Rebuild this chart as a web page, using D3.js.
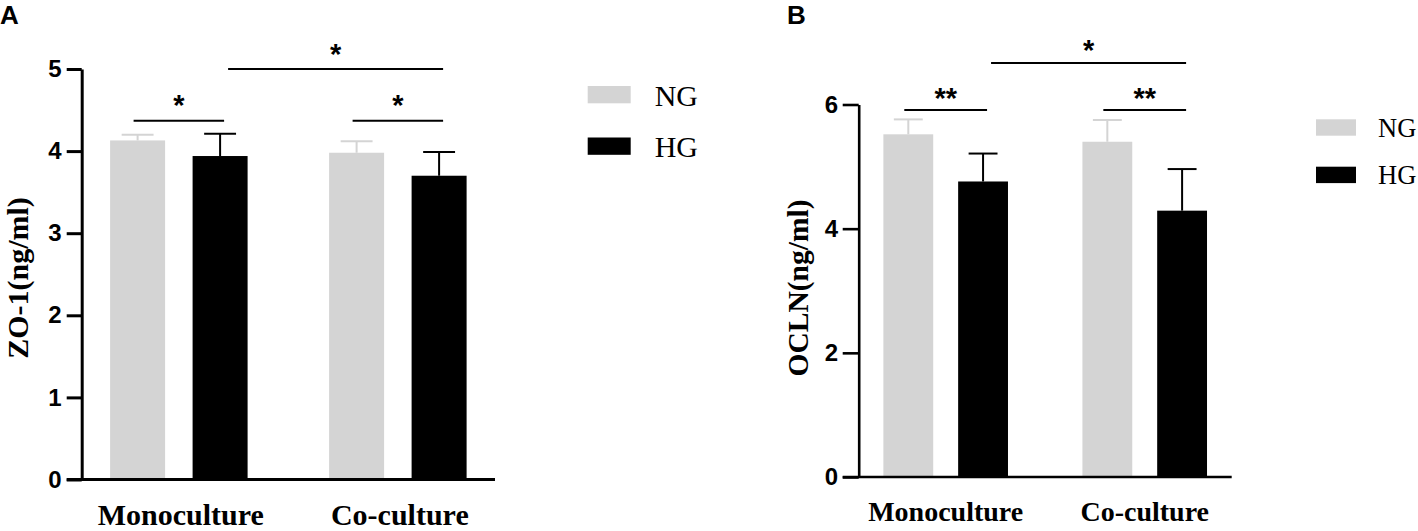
<!DOCTYPE html>
<html>
<head>
<meta charset="utf-8">
<script src="https://cdn.jsdelivr.net/npm/d3@7"></script>
<style>
  body { margin: 0; background: #fff; }
  svg { display: block; }
</style>
</head>
<body>
<svg id="chart" width="1418" height="531"></svg>
<script>
// groups and series shared by both panels
var groups = ["Monoculture", "Co-culture"];
var series = ["NG", "HG"];
var seriesColors = ["#d4d4d4", "#000000"];

// panel A: ZO-1 (ng/ml), mean and error (upper only)
var zo1NG = [4.13, 3.98];
var zo1HG = [3.94, 3.70];
var zo1NGErr = [0.07, 0.14];
var zo1HGErr = [0.27, 0.29];
var zo1Ticks = [0, 1, 2, 3, 4, 5];
var zo1Sig = [
  { from: ["Monoculture", "NG"], to: ["Monoculture", "HG"], y: 4.37, label: "*", level: 1 },
  { from: ["Monoculture", "HG"], to: ["Co-culture", "HG"], y: 5.0, label: "*", level: 2 },
  { from: ["Co-culture", "NG"], to: ["Co-culture", "HG"], y: 4.37, label: "*", level: 1 }
];

// panel B: OCLN (ng/ml)
var oclnNG = [5.52, 5.40];
var oclnHG = [4.76, 4.29];
var oclnNGErr = [0.24, 0.35];
var oclnHGErr = [0.45, 0.67];
var oclnTicks = [0, 2, 4, 6];
var oclnSig = [
  { from: ["Monoculture", "NG"], to: ["Monoculture", "HG"], y: 5.91, label: "**", level: 1 },
  { from: ["Monoculture", "HG"], to: ["Co-culture", "HG"], y: 6.67, label: "*", level: 2 },
  { from: ["Co-culture", "NG"], to: ["Co-culture", "HG"], y: 5.91, label: "**", level: 1 }
];

var SANS = "'Liberation Sans', Arial, sans-serif";
var SERIF = "'Liberation Serif', 'Times New Roman', serif";

var svg = d3.select("#chart");

function drawPanel(cfg) {
  var g = svg.append("g");

  var y = d3.scaleLinear()
    .domain([0, cfg.yMax])
    .range([cfg.y0, cfg.yTop]);

  var x = d3.scalePoint()
    .domain(groups)
    .range([cfg.axisX, cfg.xEnd])
    .padding(cfg.groupPad);

  var inner = d3.scaleBand()
    .domain(series)
    .range([-cfg.innerHalf, cfg.innerHalf])
    .paddingInner(1 / 3);
  var bw = inner.bandwidth();

  function cx(grp, s) { return x(grp) + inner(s) + bw / 2; }

  var rows = [];
  groups.forEach(function(grp, i) {
    series.forEach(function(s, j) {
      rows.push({ group: grp, series: s, mean: cfg.means[j][i], err: cfg.errs[j][i], color: seriesColors[j] });
    });
  });

  // error bars first (only the upper half shows)
  var eb = g.selectAll("g.err").data(rows).enter().append("g").attr("class", "err")
    .attr("stroke", function(d) { return d.color; })
    .attr("stroke-width", 2);
  eb.append("line")
    .attr("x1", function(d) { return cx(d.group, d.series); })
    .attr("x2", function(d) { return cx(d.group, d.series); })
    .attr("y1", function(d) { return y(d.mean); })
    .attr("y2", function(d) { return y(d.mean + d.err); });
  eb.append("line")
    .attr("x1", function(d) { return cx(d.group, d.series) - bw * 0.29; })
    .attr("x2", function(d) { return cx(d.group, d.series) + bw * 0.29; })
    .attr("y1", function(d) { return y(d.mean + d.err); })
    .attr("y2", function(d) { return y(d.mean + d.err); });

  // bars
  g.selectAll("rect.bar").data(rows).enter().append("rect")
    .attr("class", "bar")
    .attr("x", function(d) { return x(d.group) + inner(d.series); })
    .attr("width", bw)
    .attr("y", function(d) { return y(d.mean); })
    .attr("height", function(d) { return y(0) - y(d.mean); })
    .attr("fill", function(d) { return d.color; });

  // y axis
  var yAxis = d3.axisLeft(y)
    .tickValues(cfg.ticks)
    .tickFormat(d3.format("d"))
    .tickSize(cfg.tickSize)
    .tickSizeOuter(0)
    .tickPadding(cfg.tickPad);
  var yGroup = g.append("g")
    .attr("transform", "translate(" + cfg.axisX + ",0)")
    .call(yAxis);
  yGroup.selectAll("path, line").attr("stroke", "#000").attr("stroke-width", cfg.axisW);
  yGroup.selectAll("text")
    .attr("fill", "#000")
    .style("font-family", SANS)
    .style("font-weight", "bold")
    .style("font-size", cfg.tickFont + "px");

  // x axis line
  g.append("line")
    .attr("x1", cfg.axisX - cfg.tickSize)
    .attr("x2", cfg.xEnd)
    .attr("y1", y(0))
    .attr("y2", y(0))
    .attr("stroke", "#000")
    .attr("stroke-width", cfg.axisW);

  // category labels
  g.selectAll("text.cat").data(groups).enter().append("text")
    .attr("class", "cat")
    .attr("x", function(d) { return x(d) + cfg.catDx; })
    .attr("y", cfg.catY)
    .attr("text-anchor", "middle")
    .style("font-family", SERIF)
    .style("font-weight", "bold")
    .style("font-size", cfg.catFont + "px")
    .text(function(d) { return d; });

  // y label
  g.append("text")
    .attr("transform", "translate(" + cfg.yLabelX + "," + cfg.yLabelY + ") rotate(-90)")
    .attr("text-anchor", "middle")
    .style("font-family", SERIF)
    .style("font-weight", "bold")
    .style("font-size", cfg.yLabelFont + "px")
    .text(cfg.yLabel);

  // significance brackets
  var sg = g.selectAll("g.sig").data(cfg.sig).enter().append("g").attr("class", "sig");
  function sx1(d) { return cx(d.from[0], d.from[1]) + (d.level > 1 ? 8 : -4); }
  function sx2(d) { return cx(d.to[0], d.to[1]) + 4; }
  sg.append("line")
    .attr("x1", sx1)
    .attr("x2", sx2)
    .attr("y1", function(d) { return y(d.y); })
    .attr("y2", function(d) { return y(d.y); })
    .attr("stroke", "#000")
    .attr("stroke-width", 2);
  sg.append("text")
    .attr("x", function(d) { return (sx1(d) + sx2(d)) / 2; })
    .attr("y", function(d) { return y(d.y) - cfg.starDy; })
    .attr("text-anchor", "middle")
    .style("font-family", SANS)
    .style("font-weight", "bold")
    .style("font-size", "29px")
    .text(function(d) { return d.label; });

  // legend
  var lg = g.selectAll("g.leg").data(series).enter().append("g").attr("class", "leg")
    .attr("transform", function(d, i) { return "translate(" + cfg.legX + "," + (cfg.legY + i * cfg.legStep) + ")"; });
  lg.append("rect")
    .attr("width", cfg.legW)
    .attr("height", cfg.legH)
    .attr("fill", function(d, i) { return seriesColors[i]; });
  lg.append("text")
    .attr("x", cfg.legTextDx)
    .attr("y", cfg.legTextDy)
    .style("font-family", SERIF)
    .style("font-size", cfg.legFont + "px")
    .text(function(d) { return d; });

  // panel letter
  svg.append("text")
    .attr("x", cfg.letterX)
    .attr("y", 24)
    .style("font-family", SANS)
    .style("font-weight", "bold")
    .style("font-size", "26px")
    .text(cfg.letter);
}

drawPanel({
  letter: "A", letterX: 0,
  means: [zo1NG, zo1HG], errs: [zo1NGErr, zo1HGErr], ticks: zo1Ticks, sig: zo1Sig,
  yMax: 5, y0: 479.5, yTop: 69,
  axisX: 81.7, xEnd: 495, groupPad: 0.4436, innerHalf: 68.75,
  tickSize: 15, tickPad: 5, tickFont: 24, axisW: 3,
  catY: 525, catFont: 30, catDx: 2,
  yLabel: "ZO-1(ng/ml)", yLabelX: 28, yLabelY: 278, yLabelFont: 30,
  starDy: 5.5,
  legX: 587.7, legY: 86, legStep: 51.5, legW: 43, legH: 17.3, legTextDx: 67, legTextDy: 19.7, legFont: 30
});

drawPanel({
  letter: "B", letterX: 787,
  means: [oclnNG, oclnHG], errs: [oclnNGErr, oclnHGErr], ticks: oclnTicks, sig: oclnSig,
  yMax: 6, y0: 477, yTop: 104.5,
  axisX: 858.7, xEnd: 1231.7, groupPad: 0.437, innerHalf: 62.3,
  tickSize: 16, tickPad: 4.5, tickFont: 24, axisW: 2.6,
  catY: 521, catFont: 28, catDx: 0,
  yLabel: "OCLN(ng/ml)", yLabelX: 808, yLabelY: 288, yLabelFont: 29.5,
  starDy: 2.5,
  legX: 1316, legY: 119.3, legStep: 47.4, legW: 40, legH: 16.4, legTextDx: 62, legTextDy: 17.4, legFont: 26.5
});
</script>
</body>
</html>
